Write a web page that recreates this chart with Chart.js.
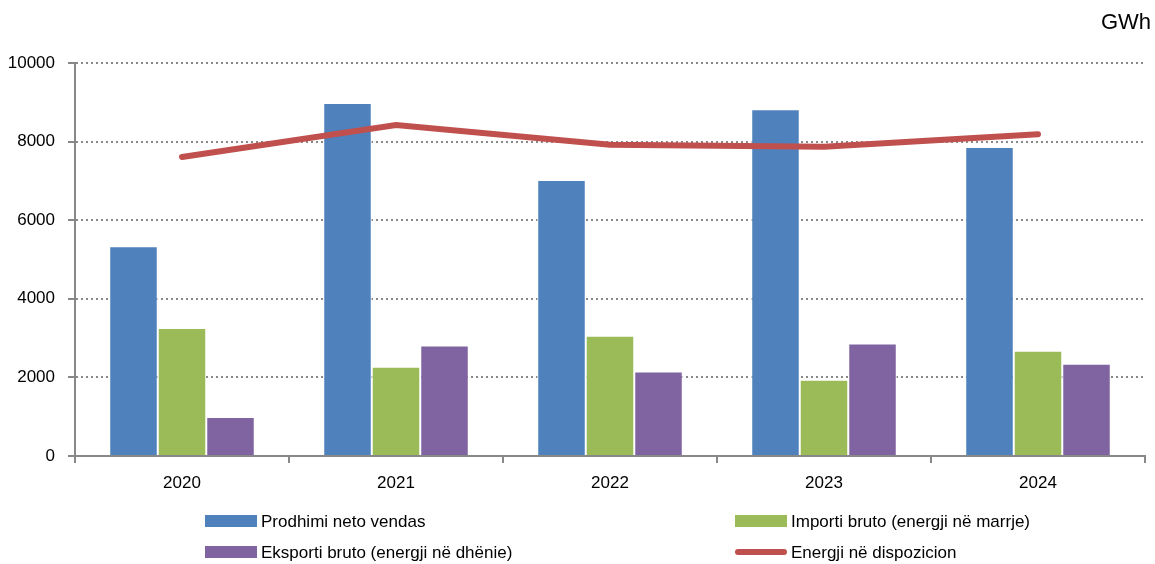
<!DOCTYPE html>
<html>
<head>
<meta charset="utf-8">
<script src="https://cdn.jsdelivr.net/npm/chart.js@4/dist/chart.umd.min.js"></script>
<style>
  html, body { margin: 0; padding: 0; background: #fff; }
  #graph { display: block; }
</style>
</head>
<body>
<canvas id="graph" width="1155" height="564"></canvas>
<script>
// years on the x axis
const years = ['2020', '2021', '2022', '2023', '2024'];

// GWh
const prodhimi = [5340, 8980, 7020, 8820, 7860];
const importi = [3260, 2270, 3060, 1940, 2680];
const eksporti = [990, 2810, 2150, 2860, 2350];
const disponim = [7610, 8420, 7920, 7870, 8190];

const yTicks = [0, 2000, 4000, 6000, 8000, 10000];

const fontName = '"Liberation Sans", Arial, sans-serif';

// legend in two columns below the axis + unit label top right
const extras = {
  id: 'extras',
  afterDraw(chart) {
    const c = chart.ctx;
    c.save();
    c.font = '22px ' + fontName;
    c.fillStyle = '#000';
    c.textBaseline = 'middle';
    c.textAlign = 'right';
    c.fillText('GWh', 1151, 23);

    c.font = '17px ' + fontName;
    c.textAlign = 'left';
    const spots = [[205, 521], [735, 521], [205, 552], [735, 552]];
    chart.data.datasets.forEach(function (ds, i) {
      const x = spots[i][0], y = spots[i][1];
      if (ds.type === 'line') {
        c.strokeStyle = ds.borderColor;
        c.lineWidth = 6;
        c.lineCap = 'round';
        c.beginPath();
        c.moveTo(x + 3, y);
        c.lineTo(x + 49, y);
        c.stroke();
      } else {
        c.fillStyle = ds.backgroundColor;
        c.fillRect(x, y - 6, 52, 12);
      }
      c.fillStyle = '#000';
      c.fillText(ds.label, x + 56, y + 1);
    });
    c.restore();
  }
};

new Chart(document.getElementById('graph'), {
  type: 'bar',
  data: {
    labels: years,
    datasets: [
      { label: 'Prodhimi neto vendas', data: prodhimi, backgroundColor: '#4F81BD',
        borderColor: '#ffffff', borderWidth: 1, order: 2 },
      { label: 'Importi bruto (energji në marrje)', data: importi, backgroundColor: '#9BBB59',
        borderColor: '#ffffff', borderWidth: 1, order: 2 },
      { label: 'Eksporti bruto (energji në dhënie)', data: eksporti, backgroundColor: '#8064A2',
        borderColor: '#ffffff', borderWidth: 1, order: 2 },
      { type: 'line', label: 'Energji në dispozicion', data: disponim, borderColor: '#C0504D',
        backgroundColor: '#C0504D', borderWidth: 6, pointRadius: 0, tension: 0,
        borderCapStyle: 'round', order: 1 }
    ]
  },
  options: {
    responsive: false,
    animation: false,
    layout: { padding: { top: 63, right: 10, bottom: 68, left: 0 } },
    plugins: { legend: { display: false }, tooltip: { enabled: false } },
    datasets: { bar: { categoryPercentage: 0.68, barPercentage: 1 } },
    scales: {
      x: {
        afterFit(s) { s.height = 40; },
        grid: { offset: true, drawOnChartArea: false, tickLength: 7, color: '#888', lineWidth: 2 },
        border: { color: '#888', width: 2 },
        ticks: { color: '#000', font: { family: fontName, size: 17 }, padding: 10 }
      },
      y: {
        min: 0, max: 10000,
        afterFit(s) { s.width = 75; },
        afterBuildTicks(s) { s.ticks = yTicks.map(v => ({ value: v })); },
        grid: { color: '#888', lineWidth: 2, tickLength: 7, tickBorderDash: [] },
        border: { color: '#888', width: 2, dash: [2, 3] },
        ticks: { color: '#000', font: { family: fontName, size: 17 }, padding: 13,
          callback: v => String(v) }
      }
    }
  },
  plugins: [extras]
});
</script>
</body>
</html>
